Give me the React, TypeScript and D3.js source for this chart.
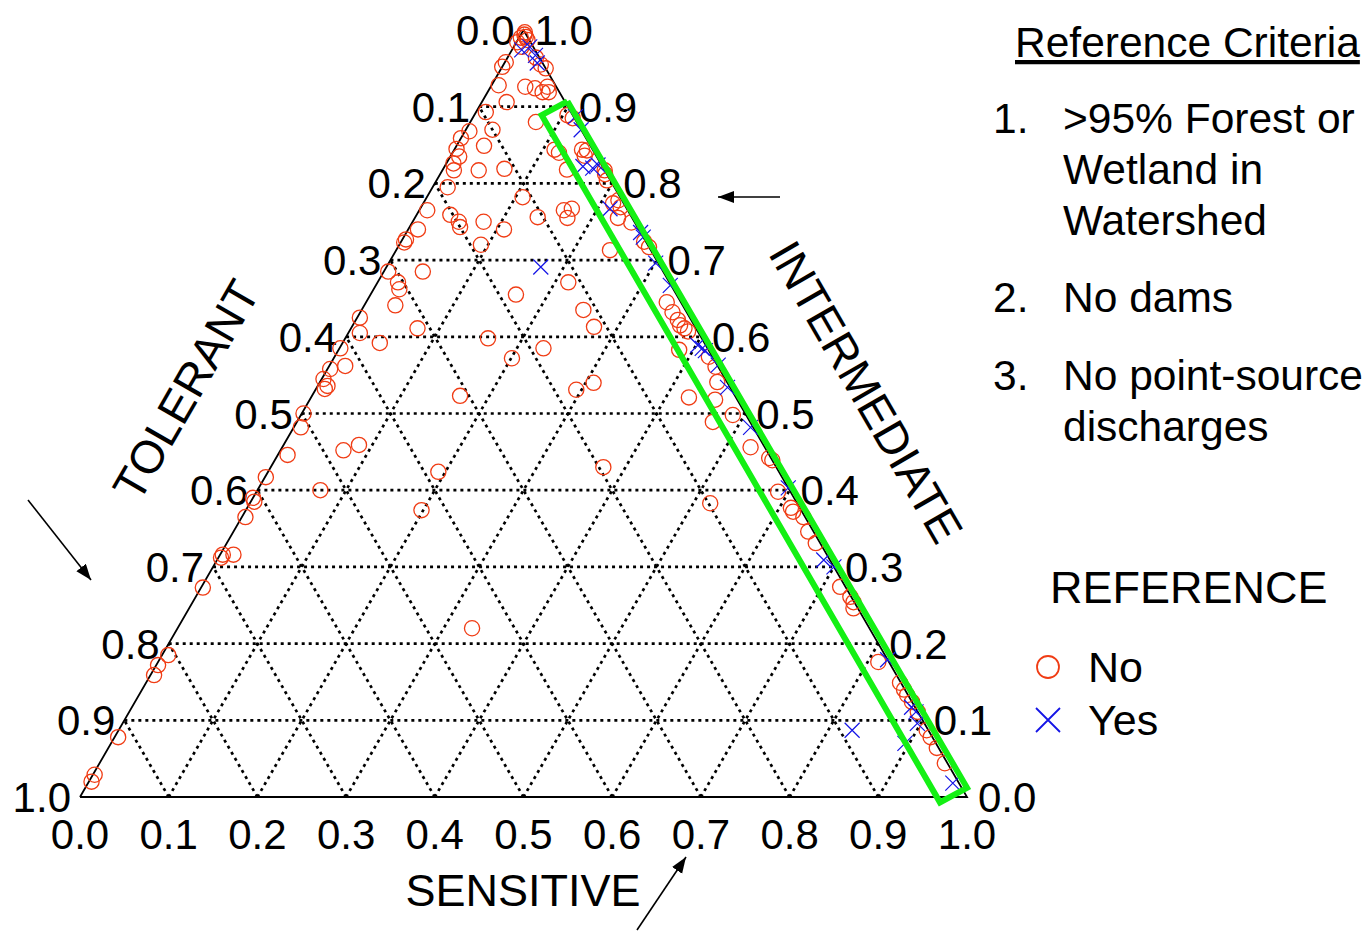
import React from "react";
import * as d3 from "d3";

// Sites as [sensitive, intermediate] fractions; tolerant = 1 - sensitive - intermediate.
const noSites: [number, number][] = [
  [0.003, 0.997], [0.002, 0.99], [0.001, 0.984], [0.007, 0.991], [0.004, 0.994],
  [0.011, 0.987], [0.009, 0.978], [0.001, 0.958], [0.0, 0.952], [0.032, 0.964],
  [0.042, 0.955], [0.05, 0.95], [0.008, 0.928], [0.039, 0.926], [0.051, 0.924],
  [0.064, 0.926], [0.069, 0.919], [0.062, 0.919], [0.028, 0.906], [0.011, 0.893],
  [0.074, 0.88], [0.105, 0.889], [0.113, 0.885], [0.0, 0.859], [0.113, 0.844],
  [0.12, 0.84], [0.144, 0.844], [0.15, 0.843], [0.151, 0.836], [0.14, 0.818],
  [0.186, 0.812], [0.192, 0.804], [0.183, 0.817], [0.108, 0.782], [0.218, 0.778],
  [0.214, 0.774], [0.225, 0.769], [0.229, 0.755], [0.247, 0.749], [0.163, 0.765],
  [0.171, 0.767], [0.172, 0.755], [0.138, 0.756], [0.241, 0.713], [0.274, 0.724],
  [0.283, 0.717], [0.339, 0.645], [0.352, 0.632], [0.363, 0.622], [0.376, 0.611],
  [0.369, 0.615], [0.382, 0.607], [0.25, 0.635], [0.273, 0.613], [0.384, 0.583],
  [0.422, 0.574], [0.436, 0.561], [0.448, 0.541], [0.309, 0.54], [0.426, 0.521],
  [0.457, 0.518], [0.469, 0.489], [0.487, 0.498], [0.528, 0.456], [0.556, 0.442],
  [0.561, 0.439], [0.588, 0.398], [0.613, 0.377], [0.618, 0.372], [0.633, 0.365],
  [0.648, 0.346], [0.664, 0.331], [0.519, 0.383], [0.72, 0.274], [0.738, 0.261],
  [0.745, 0.254], [0.749, 0.246], [0.812, 0.176], [0.85, 0.149], [0.859, 0.14],
  [0.866, 0.133], [0.876, 0.124], [0.889, 0.111], [0.911, 0.087], [0.92, 0.078],
  [0.934, 0.064], [0.953, 0.044], [0.03, 0.87], [0.005, 0.868], [0.031, 0.849],
  [0.002, 0.845], [0.01, 0.835], [0.008, 0.826], [0.041, 0.817], [0.013, 0.817],
  [0.069, 0.819], [0.017, 0.795], [0.009, 0.765], [0.038, 0.759], [0.052, 0.75],
  [0.057, 0.743], [0.08, 0.75], [0.108, 0.74], [0.092, 0.72], [0.011, 0.74],
  [0.004, 0.727], [0.004, 0.723], [0.005, 0.685], [0.023, 0.671], [0.029, 0.662],
  [0.044, 0.685], [0.164, 0.655], [0.215, 0.671], [0.035, 0.641], [0.075, 0.611],
  [0.003, 0.625], [0.013, 0.605], [0.042, 0.592], [0.001, 0.585], [0.018, 0.562],
  [0.003, 0.558], [0.002, 0.545], [0.011, 0.536], [0.01, 0.532], [0.002, 0.5],
  [0.008, 0.482], [0.161, 0.598], [0.201, 0.572], [0.23, 0.585], [0.167, 0.523],
  [0.011, 0.446], [0.071, 0.452], [0.085, 0.459], [0.001, 0.417], [0.071, 0.4],
  [0.0, 0.39], [0.004, 0.385], [0.004, 0.365], [0.192, 0.424], [0.198, 0.374],
  [0.003, 0.312], [0.003, 0.316], [0.015, 0.316], [0.002, 0.273], [0.007, 0.185],
  [0.002, 0.172], [0.004, 0.159], [0.004, 0.078], [0.002, 0.029], [0.003, 0.02],
  [0.294, 0.531], [0.375, 0.43], [0.332, 0.22],
];

const yesSites: [number, number][] = [
  [0.011, 0.974], [0.018, 0.978], [0.03, 0.967], [0.037, 0.957], [0.115, 0.887],
  [0.13, 0.87], [0.156, 0.822], [0.168, 0.82], [0.172, 0.824], [0.214, 0.767],
  [0.264, 0.736], [0.27, 0.73], [0.301, 0.696], [0.332, 0.667], [0.402, 0.589],
  [0.409, 0.585], [0.414, 0.582], [0.438, 0.563], [0.463, 0.534], [0.515, 0.482],
  [0.597, 0.403], [0.684, 0.309], [0.7, 0.3], [0.821, 0.179], [0.879, 0.117],
  [0.887, 0.111], [0.896, 0.096], [0.827, 0.087], [0.895, 0.07], [0.975, 0.018],
  [0.174, 0.691],
];

// Band outlining sites with near-zero tolerant share, as [sensitive, intermediate] corners.
const referenceBand: [number, number][] = [
  [0.096, 0.907], [0.994, 0.012], [0.973, -0.007], [0.076, 0.889],
];

const tickValues = d3.range(0, 11).map((k) => k / 10);
const gridSteps = d3.range(1, 10).map((k) => k / 10);

const criteria = [
  { num: "1.", lines: [">95% Forest or", "Wetland in", "Watershed"], y: 133 },
  { num: "2.", lines: ["No dams"], y: 312 },
  { num: "3.", lines: ["No point-source", "discharges"], y: 390 },
];

const legendItems = [
  { label: "No", kind: "circle" },
  { label: "Yes", kind: "cross" },
];

const FONT = "'Liberation Sans', Arial, Helvetica, sans-serif";
const NO_COLOR = "#f03c14";
const YES_COLOR = "#1414e6";
const BAND_COLOR = "#14f014";

export default function App() {
  const W = 1369;
  const H = 932;
  const xs = d3.scaleLinear().domain([0, 1]).range([80, 967]);
  const ys = d3.scaleLinear().domain([0, 1]).range([797, 30]);
  const proj = (s: number, i: number): [number, number] => [xs(s + i / 2), ys(i)];
  const fmt = d3.format(".1f");
  const line = d3.line<[number, number]>().x((d) => d[0]).y((d) => d[1]);

  const outline = line([proj(0, 0), proj(1, 0), proj(0, 1), proj(0, 0)]) + "";

  const grid: [number, number][][] = [];
  gridSteps.forEach((k) => {
    // constant intermediate
    grid.push([proj(0, k), proj(1 - k, k)]);
    // constant sensitive
    grid.push([proj(k, 0), proj(k, 1 - k)]);
    // constant tolerant
    grid.push([proj(1 - k, 0), proj(0, 1 - k)]);
  });

  const band = line([...referenceBand.map(([s, i]) => proj(s, i)), proj(referenceBand[0][0], referenceBand[0][1])]) + "";

  const labelSize = 42;
  const r = 7.6;
  const c = 7.5;

  return (
    <svg
      width={W}
      height={H}
      style={{ position: "absolute", left: 0, top: 0, background: "#fff" }}
      fontFamily={FONT}
    >
      <defs>
        <marker
          id="head"
          markerUnits="userSpaceOnUse"
          markerWidth={18}
          markerHeight={14}
          refX={16}
          refY={6}
          orient="auto"
        >
          <path d="M0,0 L16,6 L0,12 Z" fill="#000" />
        </marker>
      </defs>
      <rect width={W} height={H} fill="#fff" />

      {grid.map((seg, idx) => (
        <path
          key={idx}
          d={line(seg) + ""}
          stroke="#000"
          strokeWidth={2.7}
          strokeDasharray="3 4"
          fill="none"
        />
      ))}
      <path d={outline} stroke="#000" strokeWidth={1.8} fill="none" />

      {/* tick labels */}
      {tickValues.map((t) => {
        const [x, y] = proj(0, 1 - t);
        return (
          <text key={"l" + t} x={x - 9} y={y + 15} fontSize={labelSize} textAnchor="end">
            {fmt(t)}
          </text>
        );
      })}
      {tickValues.map((v) => {
        const [x, y] = proj(1 - v, v);
        return (
          <text key={"r" + v} x={x + 11} y={y + 15} fontSize={labelSize} textAnchor="start">
            {fmt(v)}
          </text>
        );
      })}
      {tickValues.map((v) => {
        const [x, y] = proj(v, 0);
        return (
          <text key={"b" + v} x={x} y={y + 52} fontSize={labelSize} textAnchor="middle">
            {fmt(v)}
          </text>
        );
      })}

      {/* axis titles */}
      <text x={523} y={906} fontSize={45} textAnchor="middle">SENSITIVE</text>
      <text
        x={0}
        y={0}
        fontSize={46}
        textAnchor="middle"
        dominantBaseline="central"
        transform="translate(186,390) rotate(-60)"
      >
        TOLERANT
      </text>
      <text
        x={0}
        y={0}
        fontSize={46}
        textAnchor="middle"
        dominantBaseline="central"
        transform="translate(866,392) rotate(60)"
      >
        INTERMEDIATE
      </text>

      {/* sites */}
      {noSites.map(([s, i], idx) => {
        const [x, y] = proj(s, i);
        return <circle key={"n" + idx} cx={x} cy={y} r={r} fill="none" stroke={NO_COLOR} strokeWidth={1.3} />;
      })}
      {yesSites.map(([s, i], idx) => {
        const [x, y] = proj(s, i);
        return (
          <path
            key={"y" + idx}
            d={`M${x - c},${y - c}L${x + c},${y + c}M${x - c},${y + c}L${x + c},${y - c}`}
            stroke={YES_COLOR}
            strokeWidth={1.2}
          />
        );
      })}

      <path d={band} stroke={BAND_COLOR} strokeWidth={6} fill="none" strokeLinejoin="miter" />

      {/* pointer arrows */}
      <line x1={780} y1={197} x2={718} y2={197} stroke="#000" strokeWidth={1.6} markerEnd="url(#head)" />
      <line x1={28} y1={500} x2={91} y2={580} stroke="#000" strokeWidth={1.6} markerEnd="url(#head)" />
      <line x1={637} y1={930} x2={686} y2={857} stroke="#000" strokeWidth={1.6} markerEnd="url(#head)" />

      {/* criteria panel */}
      <text x={1015} y={57} fontSize={42.5} textDecoration="underline">Reference Criteria</text>
      {criteria.map((item) => (
        <g key={item.num}>
          <text x={993} y={item.y} fontSize={42.5}>{item.num}</text>
          {item.lines.map((ln, k) => (
            <text key={k} x={1063} y={item.y + k * 51} fontSize={42.5}>{ln}</text>
          ))}
        </g>
      ))}

      {/* legend */}
      <text x={1050} y={603} fontSize={45}>REFERENCE</text>
      {legendItems.map((item, k) => {
        const cy = 667 + k * 53;
        return (
          <g key={item.label}>
            {item.kind === "circle" ? (
              <circle cx={1048} cy={cy} r={11} fill="none" stroke={NO_COLOR} strokeWidth={1.8} />
            ) : (
              <path
                d={`M1036,${cy - 12}L1060,${cy + 12}M1036,${cy + 12}L1060,${cy - 12}`}
                stroke={YES_COLOR}
                strokeWidth={1.8}
              />
            )}
            <text x={1088} y={cy + 15} fontSize={43}>{item.label}</text>
          </g>
        );
      })}
    </svg>
  );
}
